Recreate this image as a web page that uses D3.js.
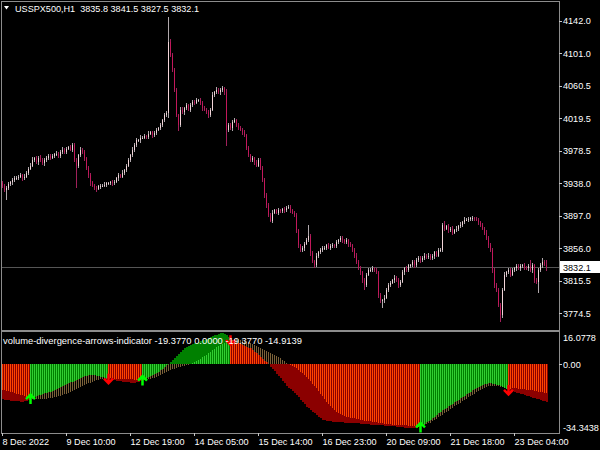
<!DOCTYPE html>
<html><head><meta charset="utf-8">
<script src="https://cdn.jsdelivr.net/npm/d3@7"></script>
<style>
html,body{margin:0;padding:0;background:#000;overflow:hidden;}
svg{display:block;}
text{font-family:"Liberation Sans",Arial,sans-serif;font-size:9.1px;fill:#ffffff;white-space:pre;}
text.dark{fill:#000000;}
</style></head><body>
<svg id="chart" width="600" height="450"></svg>
<script>
// ---------------- DATA ----------------
const symbolTitle = "USSPX500,H1  3835.8 3841.5 3827.5 3832.1";
const firstOpen = 3938;
const closes = [
3935,3929,3932,3937,3939,3942,3944,3945,3946,3948,
3944,3946,3951,3956,3960,3967,3969,3964,3970,3967,
3963,3967,3969,3972,3970,3972,3974,3975,3972,3977,
3980,3977,3981,3983,3980,3986,3967,3960,3973,3980,
3977,3969,3957,3948,3939,3935,3932,3931,3934,3935,
3935,3936,3938,3938,3939,3938,3940,3944,3948,3946,
3951,3954,3960,3967,3973,3980,3986,3992,3992,3995,
3995,3997,3996,4000,4002,3998,4001,4005,4007,4011,
4017,4023,4026,4115,4099,4080,4055,4023,4011,4030,
4027,4032,4036,4030,4036,4040,4039,4042,4042,4039,
4032,4030,4027,4023,4030,4049,4052,4055,4052,4055,
4057,4052,4005,4011,4007,4015,4017,4011,4007,4005,
4002,3998,3982,3973,3967,3969,3964,3960,3967,3957,
3942,3923,3910,3898,3891,3901,3904,3901,3904,3903,
3905,3904,3907,3908,3904,3901,3898,3879,3860,3854,
3856,3862,3866,3872,3850,3840,3835,3847,3851,3854,
3856,3857,3860,3857,3859,3860,3859,3864,3866,3869,
3866,3864,3866,3861,3860,3854,3847,3839,3831,3826,
3816,3810,3823,3829,3829,3831,3829,3826,3797,3791,
3791,3794,3804,3810,3813,3816,3819,3816,3810,3814,
3826,3831,3829,3835,3835,3839,3835,3841,3844,3841,
3844,3847,3845,3847,3844,3846,3851,3847,3854,3854,
3885,3881,3884,3879,3881,3876,3879,3881,3884,3886,
3889,3892,3892,3893,3894,3894,3893,3892,3889,3885,
3881,3876,3869,3860,3854,3829,3810,3804,3785,3772,
3804,3823,3826,3829,3823,3829,3831,3834,3831,3834,
3835,3832,3831,3834,3829,3835,3816,3814,3829,3835,
3839,3835.8,3832.1];
// wick length above the body (points)
const hiExt = [
3,2,2,3,2,2,3,2,2,3, 2,3,2,2,3,4,2,3,2,3, 2,2,3,2,3,2,2,3,2,2, 3,2,2,2,3,3,2,3,2,3,
2,3,2,2,3,2,2,3,2,2, 2,3,2,2,2,3,2,2,3,2, 3,2,2,3,2,3,2,3,2,3, 2,3,2,3,2,2,3,2,2,3,
2,3,2,32,4,3,2,3,2,4, 3,2,3,2,3,2,2,3,2,3, 2,3,2,3,2,3,2,4,3,2, 3,2,4,2,3,2,3,2,2,3,
2,3,2,3,2,3,2,3,2,3, 2,3,2,3,2,3,2,2,3,2, 2,3,2,2,3,2,2,3,2,2, 3,2,3,13,2,3,2,3,2,2,
3,2,2,3,2,3,2,3,2,3, 2,2,3,2,3,2,2,3,2,3, 2,3,2,3,2,3,2,3,2,3, 2,3,2,3,2,2,3,2,3,2,
3,2,3,2,2,3,2,3,2,3, 2,3,2,3,2,3,2,2,3,2, 3,5,2,3,2,3,2,3,2,3, 2,3,2,3,2,3,2,3,2,2,
3,2,3,2,3,2,3,2,2,3, 2,3,2,3,2,3,2,3,2,3, 2,3,2,3,8,3,2,3,2,3, 5,3,5.7];
// wick length below the body (points)
const loExt = [
3,2,12,3,2,3,2,2,3,2, 3,2,2,3,2,2,3,2,3,2, 2,3,2,2,3,2,3,2,2,3, 2,2,3,2,2,3,3,28,3,2,
2,3,2,3,4,2,3,4,2,3, 2,2,3,2,2,3,2,2,3,2, 2,3,2,2,3,2,3,2,2,3, 2,2,3,2,2,3,2,3,2,2,
3,2,2,6,3,2,3,2,8,3, 2,3,2,2,3,2,3,2,2,3, 3,2,2,3,2,2,3,2,2,3, 2,3,20,3,2,3,2,3,2,2,
3,2,3,2,3,2,3,2,2,3, 3,4,3,3,2,3,2,2,3,2, 2,3,2,2,3,2,3,4,3,2, 2,3,2,2,3,2,3,2,3,2,
2,2,3,2,3,2,2,3,2,2, 3,2,2,3,2,2,3,3,2,3, 3,6,3,2,3,2,3,2,3,3, 10,3,2,3,2,2,3,2,4,3,
2,3,2,2,3,2,3,2,2,3, 2,3,2,2,3,2,3,2,2,3, 2,3,2,3,2,3,2,2,3,2, 3,2,2,3,2,3,2,2,3,2,
2,3,2,3,3,4,4,3,3,8, 3,2,3,2,3,2,2,3,2,3, 2,3,2,3,2,4,3,3,14,2, 3,2,4.6];
const lastPrice = 3832.1;
const priceDomain = [3754.8, 4165.5];
const priceTicks = [4142.0, 4101.0, 4060.5, 4019.5, 3978.5, 3938.0, 3897.0, 3856.0, 3815.5, 3774.5];

const indTitle = "volume-divergence-arrows-indicator -19.3770 0.0000 -19.3770 -14.9139";
const indMax = 16.0778, indMin = -34.3438;
// fast line (solid histogram)
const fastVals = [
-18.0,-18.2,-18.3,-18.5,-18.7,-18.8,-18.9,-19.0,-19.1,-19.2,
-19.2,-19.1,-18.9,-18.4,-17.4,-17.0,-16.6,-16.3,-16.0,-15.7,
-15.4,-15.0,-14.7,-14.4,-14.1,-13.7,-13.2,-12.8,-12.3,-11.8,
-11.3,-10.8,-10.3,-9.8,-9.3,-8.9,-8.4,-8.0,-7.5,-7.1,
-6.6,-6.2,-5.8,-5.5,-5.4,-5.4,-5.6,-5.8,-6.1,-6.4,
-6.6,-6.9,-7.1,-7.4,-7.7,-7.9,-8.2,-8.4,-8.6,-8.8,
-9.0,-9.1,-9.2,-9.3,-9.4,-9.4,-9.4,-9.3,-9.0,-8.6,
-7.9,-7.4,-6.9,-6.5,-6.0,-5.5,-4.9,-4.4,-3.8,-3.0,
-2.2,-1.4,-0.6,0.2,1.2,2.2,3.2,4.3,5.3,6.3,
7.3,8.2,8.8,9.4,9.9,10.3,10.7,11.1,11.5,11.9,
12.3,12.7,13.1,13.4,13.8,14.3,14.8,15.2,15.6,15.9,
16.0,15.8,15.2,14.0,12.4,11.9,11.5,11.1,10.7,10.3,
9.9,9.5,9.0,8.6,8.2,7.4,6.5,5.6,4.8,3.9,
2.9,1.9,1.0,0.0,-1.2,-2.4,-3.6,-4.8,-6.0,-7.3,
-8.5,-9.8,-11.0,-12.0,-12.9,-13.9,-14.8,-15.8,-17.0,-18.2,
-19.4,-20.6,-21.8,-22.7,-23.5,-24.4,-25.2,-26.1,-27.0,-27.8,
-28.5,-28.9,-29.1,-29.3,-29.4,-29.5,-29.6,-29.8,-29.8,-29.9,
-29.9,-30.0,-30.0,-30.1,-30.1,-30.2,-30.2,-30.3,-30.4,-30.5,
-30.6,-30.7,-30.8,-30.9,-31.0,-31.0,-31.1,-31.2,-31.3,-31.4,
-31.5,-31.6,-31.6,-31.7,-31.8,-31.9,-32.0,-32.1,-32.2,-32.4,
-32.5,-32.6,-32.8,-32.9,-33.0,-33.0,-33.0,-32.8,-32.5,-32.0,
-31.3,-30.6,-29.9,-29.3,-28.6,-27.8,-26.9,-26.1,-25.2,-24.4,
-23.7,-23.0,-22.3,-21.6,-20.9,-20.2,-19.5,-18.9,-18.2,-17.5,
-16.8,-16.1,-15.5,-14.8,-14.1,-13.5,-12.9,-12.4,-11.8,-11.2,
-10.8,-10.4,-10.1,-9.8,-9.9,-10.0,-10.2,-10.5,-10.8,-11.2,
-11.6,-12.0,-12.5,-13.2,-13.6,-14.0,-14.3,-14.6,-14.9,-15.2,
-15.5,-15.8,-16.1,-16.5,-16.8,-17.2,-17.5,-17.8,-18.1,-18.4,
-18.8,-19.1,-19.377];
// slow line (striped histogram)
const slowVals = [
-13.0,-13.3,-13.6,-13.9,-14.2,-14.5,-14.8,-15.1,-15.4,-15.7,
-16.0,-16.5,-16.9,-17.3,-17.6,-17.7,-17.8,-17.8,-17.8,-17.8,
-17.8,-17.7,-17.7,-17.6,-17.5,-17.3,-17.0,-16.8,-16.5,-16.2,
-15.9,-15.5,-15.2,-14.9,-14.4,-13.9,-13.3,-12.8,-12.3,-11.8,
-11.3,-10.8,-10.3,-9.8,-9.4,-9.0,-8.7,-8.3,-8.0,-7.7,
-7.6,-7.5,-7.4,-7.3,-7.3,-7.3,-7.4,-7.4,-7.4,-7.5,
-7.6,-7.6,-7.7,-7.7,-7.8,-7.8,-7.9,-7.9,-8.0,-8.0,
-8.0,-8.0,-7.9,-7.8,-7.7,-7.3,-6.9,-6.4,-6.0,-5.5,
-5.0,-4.5,-4.0,-3.5,-3.1,-2.7,-2.3,-1.9,-1.5,-1.2,
-1.0,-0.7,-0.5,-0.2,0.0,0.5,1.1,1.6,2.2,2.9,
3.6,4.3,5.0,5.8,6.5,7.2,8.0,8.7,9.3,9.8,
10.4,10.9,11.4,11.9,12.5,12.7,12.9,12.9,12.8,12.7,
12.3,11.9,11.6,11.2,10.8,10.3,9.7,9.2,8.7,8.2,
7.7,7.2,6.7,6.2,5.7,5.2,4.7,4.1,3.6,3.1,
2.3,1.5,0.8,0.0,-0.5,-1.1,-1.6,-2.1,-3.0,-3.8,
-4.7,-5.5,-6.4,-7.6,-8.8,-10.0,-11.1,-12.3,-13.7,-15.1,
-16.4,-17.8,-19.2,-20.2,-21.3,-22.3,-23.4,-24.4,-24.9,-25.4,
-26.0,-26.5,-27.0,-27.2,-27.5,-27.7,-27.9,-28.1,-28.3,-28.5,
-28.8,-29.0,-29.2,-29.3,-29.4,-29.6,-29.7,-29.8,-30.0,-30.2,
-30.4,-30.5,-30.7,-30.9,-30.9,-31.0,-31.0,-31.1,-31.1,-31.2,
-31.2,-31.3,-31.5,-31.6,-31.7,-31.9,-32.0,-32.1,-32.1,-32.1,
-31.7,-31.2,-30.9,-30.4,-30.0,-29.3,-28.7,-28.0,-27.3,-26.6,
-25.9,-25.2,-24.5,-23.8,-23.1,-22.4,-21.7,-21.1,-20.4,-19.7,
-19.0,-18.3,-17.7,-17.0,-16.3,-15.7,-15.1,-14.4,-13.8,-13.2,
-12.7,-12.3,-11.8,-11.4,-11.0,-11.0,-11.1,-11.3,-11.4,-11.6,
-11.9,-12.3,-12.7,-12.9,-12.7,-12.4,-12.2,-12.3,-12.5,-12.6,
-12.8,-12.9,-13.1,-13.2,-13.4,-13.5,-13.7,-13.9,-14.1,-14.3,
-14.5,-14.7,-14.9139];
const upArrows = [14, 70, 209];
const downArrows = [53, 114, 253];

const timeIdx = [0, 32, 64, 96, 128, 160, 192, 224, 256];
const timeLabels = ["8 Dec 2022", "9 Dec 10:00", "12 Dec 19:00", "14 Dec 05:00", "15 Dec 14:00",
                    "16 Dec 23:00", "20 Dec 09:00", "21 Dec 18:00", "23 Dec 04:00"];

// ---------------- DRAW ----------------
const W = 600, H = 450;
const svg = d3.select('#chart').attr('shape-rendering', 'crispEdges');
svg.append('rect').attr('width', W).attr('height', H).attr('fill', '#000');

const n = closes.length;
const x = d3.scaleLinear().domain([0, n - 1]).range([2, 2 + 2 * (n - 1)]);
const yP = d3.scaleLinear().domain(priceDomain).range([329, 2]);
const yI = d3.scaleLinear().domain([indMin, indMax]).range([431, 333]);

const defs = svg.append('defs');
defs.append('clipPath').attr('id', 'clipMain').append('rect').attr('x', 2).attr('y', 2).attr('width', 557).attr('height', 328);
defs.append('clipPath').attr('id', 'clipInd').append('rect').attr('x', 2).attr('y', 332).attr('width', 557).attr('height', 101);

const borderCol = '#8c8c8c';

// main pane
const main = svg.append('g').attr('clip-path', 'url(#clipMain)');
const lastY = Math.round(yP(lastPrice)) + 0.5;
main.append('line').attr('x1', 2).attr('x2', 559).attr('y1', lastY).attr('y2', lastY)
  .attr('stroke', '#555555').attr('stroke-width', 1);

const candles = closes.map((c, i) => {
  const o = i === 0 ? firstOpen : closes[i - 1];
  return { i, o, c, h: Math.max(o, c) + hiExt[i], l: Math.min(o, c) - loExt[i] };
});
const bullBody = '#f2d4d8', bearBody = '#c2185b', bullWick = '#b0a8ac', bearWick = '#a0205a';
main.selectAll('rect.wick').data(candles).join('rect').attr('class', 'wick')
  .attr('x', d => x(d.i)).attr('width', 1)
  .attr('y', d => Math.round(yP(d.h)))
  .attr('height', d => Math.max(1, Math.round(yP(d.l)) - Math.round(yP(d.h))))
  .attr('fill', d => d.c >= d.o ? bullWick : bearWick);
main.selectAll('rect.body').data(candles).join('rect').attr('class', 'body')
  .attr('x', d => x(d.i)).attr('width', 1)
  .attr('y', d => Math.round(yP(Math.max(d.o, d.c))))
  .attr('height', d => Math.max(1, Math.round(yP(Math.min(d.o, d.c))) - Math.round(yP(Math.max(d.o, d.c)))))
  .attr('fill', d => d.c >= d.o ? bullBody : bearBody);

// indicator pane
const state = [];
let up = false;
for (let i = 0; i < n; i++) {
  if (upArrows.includes(i)) up = true;
  if (downArrows.includes(i)) up = false;
  state.push(up);
}
const ind = svg.append('g').attr('clip-path', 'url(#clipInd)');
const y0 = Math.round(yI(0));
const barY = v => Math.min(y0, Math.round(yI(v)));
const barH = v => Math.abs(Math.round(yI(v)) - y0);

ind.selectAll('rect.slow').data(slowVals).join('rect').attr('class', 'slow')
  .attr('x', (v, i) => x(i)).attr('width', 1)
  .attr('y', v => barY(v)).attr('height', v => barH(v))
  .attr('fill', '#7a6038');
ind.selectAll('rect.fast').data(fastVals).join('rect').attr('class', 'fast')
  .attr('x', (v, i) => x(i)).attr('width', 2)
  .attr('y', v => barY(v)).attr('height', v => barH(v))
  .attr('fill', (v, i) => state[i] ? '#008000' : '#8b0000');
const inner = fastVals.map((a, i) => {
  const b = slowVals[i];
  if (a * b <= 0) return 0;
  return Math.abs(a) < Math.abs(b) ? a : b;
});
ind.selectAll('rect.bright').data(inner).join('rect').attr('class', 'bright')
  .attr('x', (v, i) => x(i)).attr('width', 1)
  .attr('y', v => barY(v)).attr('height', v => barH(v))
  .attr('fill', (v, i) => state[i] ? '#32cd32' : '#ff4500');

// arrows
const arrows = svg.append('g').attr('shape-rendering', 'auto');
upArrows.forEach(i => {
  const cx = x(i) + 0.5, ty = yI(fastVals[i]) - 4;
  arrows.append('path')
    .attr('d', `M${cx - 4.5},${ty + 5}L${cx},${ty + 0.5}L${cx + 4.5},${ty + 5}M${cx},${ty + 0.5}L${cx},${ty + 10}`)
    .attr('fill', 'none').attr('stroke', '#00ff00').attr('stroke-width', 2.5);
});
downArrows.forEach(i => {
  const cx = x(i) + 0.5, ty = yI(fastVals[i]) + 5;
  arrows.append('path')
    .attr('d', `M${cx - 4.5},${ty - 5}L${cx},${ty - 0.5}L${cx + 4.5},${ty - 5}M${cx},${ty - 0.5}L${cx},${ty - 10}`)
    .attr('fill', 'none').attr('stroke', '#ff0000').attr('stroke-width', 2.5);
});

// borders
const borders = svg.append('g').attr('stroke', borderCol).attr('stroke-width', 1).attr('fill', 'none');
borders.append('line').attr('x1', 1).attr('x2', 560).attr('y1', 1.5).attr('y2', 1.5);
borders.append('line').attr('x1', 1.5).attr('x2', 1.5).attr('y1', 1).attr('y2', 434);
borders.append('line').attr('x1', 559.5).attr('x2', 559.5).attr('y1', 1).attr('y2', 434);
borders.append('line').attr('x1', 1).attr('x2', 560).attr('y1', 330.5).attr('y2', 330.5);
borders.append('line').attr('x1', 1).attr('x2', 560).attr('y1', 331.5).attr('y2', 331.5);
borders.append('line').attr('x1', 1).attr('x2', 560).attr('y1', 433.5).attr('y2', 433.5);

// price axis
const pAxis = svg.append('g').attr('transform', 'translate(559,0)').attr('color', '#c8c8c8')
  .call(d3.axisRight(yP).tickValues(priceTicks).tickSize(3).tickPadding(1).tickFormat(d3.format('.1f')));
pAxis.select('.domain').remove();

// last price box
svg.append('rect').attr('x', 560).attr('y', Math.round(yP(lastPrice)) - 6).attr('width', 40).attr('height', 12).attr('fill', '#ffffff');
svg.append('text').attr('class', 'dark').attr('x', 563).attr('y', yP(lastPrice)).attr('dy', '0.34em').text(d3.format('.1f')(lastPrice));

// indicator axis
const iAxis = svg.append('g').attr('transform', 'translate(559,0)').attr('color', '#c8c8c8')
  .call(d3.axisRight(yI).tickValues([0]).tickSize(3).tickPadding(1).tickFormat(d3.format('.2f')));
iAxis.select('.domain').remove();
svg.append('text').attr('x', 563).attr('y', yI(indMax) + 5).attr('dy', '0.34em').text(String(indMax));
svg.append('text').attr('x', 563).attr('y', yI(indMin) - 3.5).attr('dy', '0.34em').text(String(indMin));

// time axis
const tAxis = svg.append('g').attr('transform', 'translate(0,433)').attr('color', '#c8c8c8')
  .call(d3.axisBottom(x).tickValues(timeIdx).tickSize(3).tickPadding(3).tickFormat((d, k) => timeLabels[k]));
tAxis.select('.domain').remove();
tAxis.selectAll('text').attr('text-anchor', 'start').attr('x', 0);

// titles
svg.append('path').attr('d', 'M4,6L9,6L6.5,9.5Z').attr('fill', '#ffffff').attr('shape-rendering', 'auto');
svg.append('text').attr('x', 15).attr('y', 12).attr('textLength', 184).attr('lengthAdjust', 'spacingAndGlyphs').text(symbolTitle);
svg.append('text').attr('x', 3).attr('y', 343.5).attr('textLength', 299).attr('lengthAdjust', 'spacingAndGlyphs').text(indTitle);
</script>
</body></html>
